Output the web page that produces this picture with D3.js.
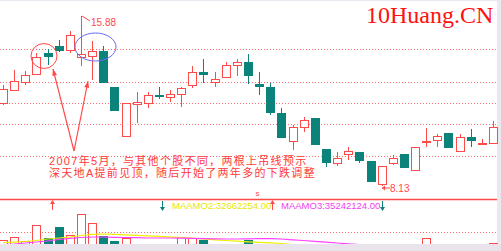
<!DOCTYPE html>
<html><head><meta charset="utf-8">
<script src="https://cdn.jsdelivr.net/npm/d3@7"></script>
<style>html,body{margin:0;padding:0;background:#fff;overflow:hidden}svg{display:block}</style>
</head><body>
<svg id="c" width="501" height="251"></svg>
<script>
// ---- data ----
const opens  = [11.89,12.49,12.85,13.22,14.18,14.50,14.32,14.00,14.05,14.28,12.62,10.38,11.84,11.89,12.26,12.17,12.30,12.72,13.31,12.85,13.08,13.63,13.77,12.76,12.62,11.43,10.15,10.79,11.20,9.78,9.14,9.55,9.64,9.23,8.18,9.14,9.55,8.82,10.10,10.19,10.51,9.69,10.33,10.05,10.06];
const closes = [12.53,12.90,13.17,14.00,14.00,14.28,15.01,14.14,14.28,12.81,11.52,11.89,11.94,12.26,12.17,12.30,12.58,13.31,13.17,12.99,13.63,13.77,13.13,12.62,11.43,10.29,10.79,11.11,9.96,9.14,9.41,9.69,9.23,8.27,9.00,9.37,8.91,9.87,10.15,10.38,9.83,10.33,10.15,10.06,10.79];
const highs  = [12.72,13.40,13.36,14.18,14.37,14.78,15.19,15.88,14.73,14.50,12.62,11.89,12.39,12.39,12.62,12.49,12.62,13.59,13.91,13.31,13.77,13.91,14.14,13.31,12.81,11.66,10.88,11.25,11.20,9.78,9.64,9.87,9.64,9.23,9.00,9.51,9.55,9.87,10.74,10.47,10.51,10.47,10.70,10.24,11.07];
const lows   = [11.80,12.44,12.72,13.22,13.63,14.23,14.18,13.59,12.95,12.81,11.52,10.38,10.97,11.66,12.07,11.94,11.71,12.58,12.81,12.62,13.08,13.13,12.76,12.26,11.34,10.29,9.74,10.56,9.96,8.96,9.00,9.28,9.14,8.27,8.13,9.05,8.91,8.82,9.87,9.87,9.83,9.64,9.87,9.96,10.06];
const volumes = [50,80,40,200,70,180,100,310,220,90,40,70,5,5,5,5,80,70,50,5,5,5,50,5,5,5,5,5,5,5,5,5,5,5,5,5,5,5,70,5,5,5,5,5,20];
const volMA2 = [23,28,35,45,60,70,80,95,107,110,107,102,97,92,87,82,75,68,60,52,45,38,32,27,22,15,5,0,0,0,0,0,0,0,0,0,0,0,0,0,0,0,0,0,0];
const volMA3 = [5,10,20,30,40,55,67,75,80,80,77,75,73,70,70,70,68,66,64,62,60,60,62,65,64,60,52,45,37,28,20,12,5,0,0,0,0,0,0,0,0,0,0,0,0];
const gridLevels = [14.37,12.85,11.89,10.93,9.46];
const highLabel = "15.88";
const lowLabel = "8.13";
const maLabels = ["MAAMO2:32662254.00","MAAMO3:35242124.00"];
const noteLines = ["2007年5月，与其他个股不同，两根上吊线预示","深天地A提前见顶，随后开始了两年多的下跌调整"];
const watermark = "10Huang.CN";

// ---- drawing ----
const RED = "#ff4a4a", TEAL = "#0b837b";
const svg = d3.select("#c");
const n = opens.length;
const x = d3.scaleLinear().domain([0, n-1]).range([3, 493]);
const y = d3.scaleLinear().domain([8.13, 15.88]).range([185.5, 16]);
const yv = d3.scaleLinear().domain([0, 310]).range([245, 214]);
const cx = i => Math.round(x(i));

// borders
svg.append("rect").attr("x",0).attr("y",0).attr("width",501).attr("height",1).attr("fill","#ece6f0");
svg.append("rect").attr("x",497).attr("y",0).attr("width",4).attr("height",251).attr("fill","#ece8f0");

// grid
svg.append("g").selectAll("line").data(gridLevels).join("line")
  .attr("x1",0).attr("x2",497)
  .attr("y1",d=>Math.round(y(d))+0.5).attr("y2",d=>Math.round(y(d))+0.5)
  .attr("stroke","#ff6e6e").attr("stroke-dasharray","1,2");

// watermark
svg.append("text").attr("x",366).attr("y",23).text(watermark)
  .attr("font-family","Liberation Serif, serif").attr("font-size",24).attr("fill","#ff1010");

// candles
const data = d3.range(n).map(i=>({i,o:opens[i],c:closes[i],h:highs[i],l:lows[i]}));
const g = svg.append("g");
data.forEach(d=>{
  const up = d.c >= d.o;
  const X = cx(d.i);
  const top = Math.round(y(Math.max(d.o,d.c))), bot = Math.round(y(Math.min(d.o,d.c)));
  const hy = Math.round(y(d.h)), ly = Math.round(y(d.l));
  if (up) {
    if (hy < top) g.append("line").attr("x1",X+0.5).attr("x2",X+0.5).attr("y1",hy).attr("y2",top).attr("stroke",RED);
    if (ly > bot) g.append("line").attr("x1",X+0.5).attr("x2",X+0.5).attr("y1",bot).attr("y2",ly).attr("stroke",RED);
    g.append("rect").attr("x",X-3.5).attr("y",top+0.5).attr("width",8).attr("height",Math.max(bot-top,1))
      .attr("fill","#fff").attr("stroke",RED);
  } else {
    g.append("line").attr("x1",X+0.5).attr("x2",X+0.5).attr("y1",hy).attr("y2",ly).attr("stroke",TEAL);
    g.append("rect").attr("x",X-4).attr("y",top).attr("width",9).attr("height",Math.max(bot-top,2)).attr("fill",TEAL);
  }
});

// high / low labels
const iH = highs.indexOf(d3.max(highs)), iL = lows.indexOf(d3.min(lows));
svg.append("line").attr("x1",cx(iH)+1).attr("y1",y(d3.max(highs))).attr("x2",cx(iH)+9).attr("y2",y(d3.max(highs))+5).attr("stroke",RED);
svg.append("text").attr("x",cx(iH)+10).attr("y",y(d3.max(highs))+9.5).text(highLabel)
  .attr("font-family","Liberation Sans, Arial").attr("font-size",10).attr("fill",RED);
const ly0 = y(d3.min(lows))+2.5;
svg.append("line").attr("x1",cx(iL)).attr("y1",ly0).attr("x2",cx(iL)+8).attr("y2",ly0).attr("stroke",RED);
svg.append("path").attr("d",`M${cx(iL)},${ly0}l3,-2.5v5z`).attr("fill",RED);
svg.append("text").attr("x",cx(iL)+8).attr("y",ly0+4).text(lowLabel)
  .attr("font-family","Liberation Sans, Arial").attr("font-size",10).attr("fill",RED);

// annotations: ellipses
svg.append("ellipse").attr("cx",44).attr("cy",56).attr("rx",13).attr("ry",12.5).attr("fill","none").attr("stroke",RED);
svg.append("ellipse").attr("cx",95.5).attr("cy",47).attr("rx",20.5).attr("ry",14).attr("fill","none").attr("stroke","#6b6bf0");

// arrows
function arrow(x1,y1,x2,y2){
  svg.append("line").attr("x1",x1).attr("y1",y1).attr("x2",x2).attr("y2",y2).attr("stroke",RED).attr("stroke-width",1.2);
  const a = Math.atan2(y2-y1,x2-x1), L=7, w=0.35;
  svg.append("path").attr("d",`M${x2},${y2}L${x2-L*Math.cos(a-w)},${y2-L*Math.sin(a-w)}L${x2-L*Math.cos(a+w)},${y2-L*Math.sin(a+w)}Z`).attr("fill",RED);
}
arrow(74,151,53,69);
arrow(74,151,88,81);

// note text
svg.append("g").selectAll("text").data(noteLines).join("text")
  .attr("x",49).attr("y",(d,i)=>164.5+i*12.5).text(d=>d)
  .attr("font-family","Liberation Sans, 'Noto Sans CJK SC'").attr("font-size",11)
  .attr("letter-spacing",1.3).attr("fill","#ff3a3a");

// lower panel
svg.append("line").attr("x1",0).attr("x2",497).attr("y1",199.5).attr("y2",199.5).attr("stroke",RED).attr("stroke-width",1.5);
svg.append("line").attr("x1",0).attr("x2",497).attr("y1",232.5).attr("y2",232.5).attr("stroke","#ff6e6e").attr("stroke-dasharray","1,2");
const vg = svg.append("g");
data.forEach(d=>{
  const up = d.c >= d.o, X = cx(d.i), t = Math.round(yv(volumes[d.i]));
  if (up) vg.append("rect").attr("x",X-3.5).attr("y",t+0.5).attr("width",8).attr("height",250-t).attr("fill","#fff").attr("stroke",RED);
  else vg.append("rect").attr("x",X-4).attr("y",t).attr("width",9).attr("height",250-t).attr("fill",TEAL);
});
const lineV = d3.line().x((d,i)=>x(i)).y(d=>yv(d));
svg.append("path").attr("d",lineV(volMA2)).attr("fill","none").attr("stroke","#f0f000").attr("stroke-width",1.2);
svg.append("path").attr("d",lineV(volMA3)).attr("fill","none").attr("stroke","#ff40ff").attr("stroke-width",1.2);

// signal arrows
function sig(X, upArrow){
  const c = upArrow ? RED : TEAL;
  svg.append("line").attr("x1",X+0.5).attr("x2",X+0.5).attr("y1",201).attr("y2",210).attr("stroke",c);
  if (upArrow) svg.append("path").attr("d",`M${X+0.5},200l-2.5,4h5z`).attr("fill",c);
  else svg.append("path").attr("d",`M${X+0.5},211l-2.5,-4h5z`).attr("fill",c);
}
sig(52,true); sig(162,false); sig(272,true); sig(382,false);
svg.append("text").attr("x",172).attr("y",209).text(maLabels[0]).attr("font-family","Liberation Sans, Arial").attr("font-size",9.5).attr("fill","#e8e800");
svg.append("text").attr("x",281).attr("y",209).text(maLabels[1]).attr("font-family","Liberation Sans, Arial").attr("font-size",9.5).attr("fill","#f040f0");
svg.append("text").attr("x",255.5).attr("y",196).text("s").attr("font-family","Liberation Sans, Arial").attr("font-size",8).attr("fill",RED);

// bottom band
svg.append("rect").attr("x",0).attr("y",244).attr("width",501).attr("height",7).attr("fill","#e9e4ec");
</script>
</body></html>
